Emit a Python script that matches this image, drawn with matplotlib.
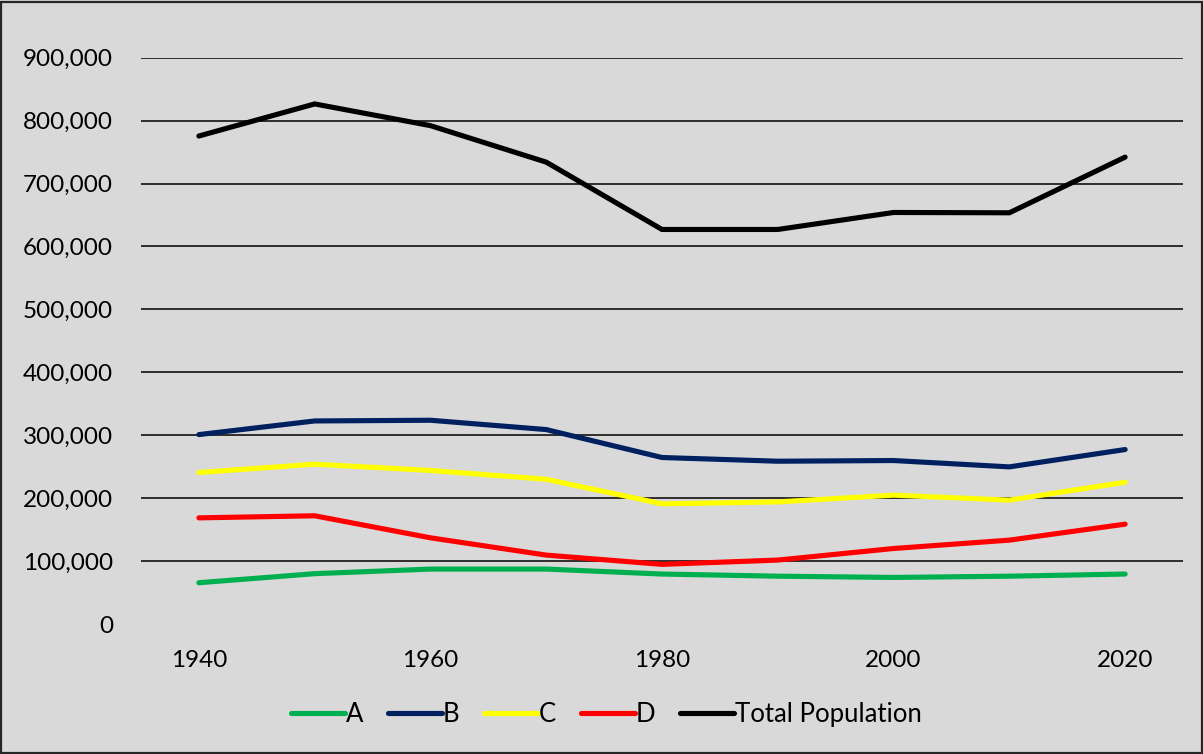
import matplotlib
matplotlib.use("Agg")
import matplotlib.pyplot as plt
from matplotlib.patches import Rectangle
from matplotlib.ticker import FuncFormatter

years = [1940, 1950, 1960, 1970, 1980, 1990, 2000, 2010, 2020]
series_a = [65600, 80000, 87300, 87300, 79400, 76000, 74000, 76000, 79400]
series_b = [301000, 322700, 323800, 309000, 264600, 258700, 259800, 249700, 277300]
series_c = [240800, 254000, 244000, 230000, 191000, 194000, 204800, 196800, 225400]
series_d = [168700, 172000, 137000, 109500, 94800, 101600, 120000, 133300, 158700]
total_population = [775500, 826500, 792000, 734000, 627000, 627000, 654000, 653500, 742000]

labels = ["A", "B", "C", "D", "Total Population"]
colors = ["#00B050", "#002060", "#FFFF00", "#FF0000", "#000000"]
y_ticks = [0, 100000, 200000, 300000, 400000, 500000, 600000, 700000, 800000, 900000]
x_tick_years = [1940, 1960, 1980, 2000, 2020]

plt.rcParams["font.family"] = ["Lato", "DejaVu Sans"]
bg = "#D9D9D9"

fig = plt.figure(figsize=(12.03, 7.54), dpi=100, facecolor=bg)
ax = fig.add_axes([0.1172, 0.1724, 0.8662, 0.7511], facecolor=bg)

positions = list(range(len(years)))
for values, label, color in zip(
    [series_a, series_b, series_c, series_d, total_population], labels, colors
):
    ax.plot(positions, values, color=color, linewidth=3.7, label=label,
            solid_capstyle="round", solid_joinstyle="miter", zorder=3)

ax.set_xlim(-0.5, len(years) - 0.5)
ax.set_ylim(0, 900000)
ax.set_yticks(y_ticks)
ax.yaxis.set_major_formatter(FuncFormatter(lambda v, p: f"{int(v):,}"))
ax.set_xticks([years.index(y) for y in x_tick_years])
ax.set_xticklabels([str(y) for y in x_tick_years])

# horizontal gridlines (no line at zero)
for v in y_ticks[1:]:
    ax.axhline(v, color="#000000", linewidth=1.1, zorder=1)

for s in ax.spines.values():
    s.set_visible(False)
ax.tick_params(axis="both", length=0, labelsize=17.5, colors="#000000")
ax.tick_params(axis="y", pad=20)
ax.tick_params(axis="x", pad=19)

leg = fig.legend(loc="center", bbox_to_anchor=(0.504, 0.053), ncol=5,
                 frameon=False, fontsize=18.5, handlelength=2.1,
                 handletextpad=0.05, columnspacing=0.95)

# outer frame of the chart
fig.patches.append(Rectangle((0.001, 0.001), 0.998, 0.997, transform=fig.transFigure,
                             fill=False, edgecolor="#262626", linewidth=1.6))

fig.savefig("out.png", dpi=100, facecolor=bg)
